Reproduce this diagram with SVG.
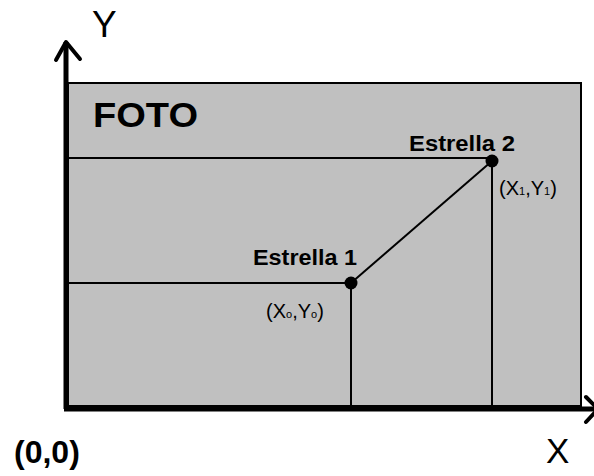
<svg xmlns="http://www.w3.org/2000/svg" width="594" height="476" viewBox="0 0 594 476">
<style>
.t{font-family:"Liberation Sans",Arial,sans-serif;fill:#000}
.b{font-weight:bold}
.ln{stroke:#000;stroke-width:2;fill:none}
.ax{stroke:#000;stroke-width:5;fill:none}
.ah{stroke:#000;stroke-width:4;fill:none;stroke-linecap:round;stroke-linejoin:round}
</style>
<rect width="594" height="476" fill="#fff"/>
<g id="foto">
<rect x="68" y="83" width="513" height="323" fill="#c0c0c0" stroke="#000" stroke-width="2"/>
<text class="t b" x="93" y="127" font-size="35" textLength="105" lengthAdjust="spacingAndGlyphs">FOTO</text>
</g>
<g id="axes">
<line class="ax" x1="66" y1="42" x2="66" y2="409"/>
<line class="ax" x1="64" y1="409" x2="596" y2="409"/>
<polyline class="ah" points="56,60 66,42 80,59"/>
<polyline class="ah" points="586,397 598,409 586,422"/>
<text class="t" x="92" y="37" font-size="37">Y</text>
<text class="t" x="546" y="463" font-size="35">X</text>
<text class="t b" x="14" y="463" font-size="32">(0,0)</text>
</g>
<g id="connectors">
<line class="ln" x1="68" y1="158" x2="492" y2="158"/>
<line class="ln" x1="68" y1="283" x2="351" y2="283"/>
<line class="ln" x1="492" y1="161" x2="492" y2="406"/>
<line class="ln" x1="351" y1="283" x2="351" y2="406"/>
<line class="ln" x1="351" y1="283" x2="492" y2="161" stroke-width="3"/>
</g>
<g id="estrella1">
<circle cx="351" cy="283" r="6.5" fill="#000"/>
<text class="t b" x="253" y="265" font-size="22" textLength="104" lengthAdjust="spacingAndGlyphs">Estrella 1</text>
<text class="t" x="266" y="318" font-size="20">(X<tspan font-size="11">o</tspan>,Y<tspan font-size="11">o</tspan>)</text>
</g>
<g id="estrella2">
<circle cx="492" cy="161" r="6.5" fill="#000"/>
<text class="t b" x="409" y="151" font-size="22" textLength="106" lengthAdjust="spacingAndGlyphs">Estrella 2</text>
<text class="t" x="499" y="195" font-size="20">(X<tspan font-size="11">1</tspan>,Y<tspan font-size="11">1</tspan>)</text>
</g>
</svg>
